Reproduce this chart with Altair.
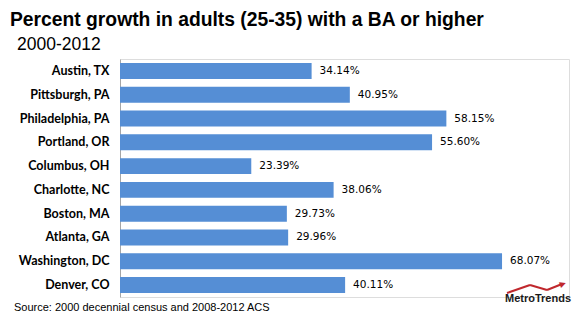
import altair as alt
import pandas as pd

cities = ["Austin, TX", "Pittsburgh, PA", "Philadelphia, PA", "Portland, OR", "Columbus, OH",
          "Charlotte, NC", "Boston, MA", "Atlanta, GA", "Washington, DC", "Denver, CO"]
growth = [34.14, 40.95, 58.15, 55.60, 23.39, 38.06, 29.73, 29.96, 68.07, 40.11]

title_text = "Percent growth in adults (25-35) with a BA or higher"
subtitle_text = "2000-2012"
source_text = "Source: 2000 decennial census and 2008-2012 ACS"
logo_text = "MetroTrends"

df = pd.DataFrame({"city": cities, "growth": growth})

W, H = 449, 238

y_enc = alt.Y("city:N", sort=cities, title=None,
              scale=alt.Scale(paddingInner=0.33, paddingOuter=0.17),
              axis=alt.Axis(ticks=False, domainColor="#A6A6A6", domainWidth=1,
                            labelFont="Lato", labelFontWeight="bold", labelFontSize=12.5,
                            labelColor="#000000", labelPadding=11))
x_enc = alt.X("growth:Q", title=None, scale=alt.Scale(domain=[0, 80]), axis=None)

bars = alt.Chart(df).mark_bar(color="#558ED5").encode(y=y_enc, x=x_enc)

labels = alt.Chart(df).transform_calculate(
    lab="format(datum.growth, '.2f') + '%'"
).mark_text(align="left", baseline="middle", dx=8, font="DejaVu Sans",
            fontSize=10.5, color="#000000").encode(y=y_enc, x=x_enc, text="lab:N")


def note(text, x, y, **kw):
    return alt.Chart(pd.DataFrame({"t": [text]})).mark_text(align="left", **kw).encode(
        x=alt.value(x), y=alt.value(y), text="t:N")


ttl = note(title_text, -110, -33, baseline="alphabetic", font="Liberation Sans",
           fontSize=19.3, fontWeight="bold", color="#000000")
sub = note(subtitle_text, -103, -9, baseline="alphabetic", font="Liberation Sans",
           fontSize=17.5, color="#000000")
src = note(source_text, -106, 249, baseline="middle", font="Liberation Sans",
           fontSize=11, color="#000000")
logo = note(logo_text, 385, 240, baseline="middle", font="Liberation Sans",
            fontWeight="bold", fontSize=11, color="#1a1a1a")

arrow_df = pd.DataFrame({"x": [387, 410, 427], "y": [234, 226, 231],
                         "x2": [410, 427, 442], "y2": [226, 231, 225]})
arrow = alt.Chart(arrow_df).mark_rule(color="#C0282D", strokeWidth=2).encode(
    x=alt.X("x:Q", scale=None), x2="x2:Q", y=alt.Y("y:Q", scale=None), y2="y2:Q")
head = alt.Chart(pd.DataFrame({"t": ["▶"]})).mark_text(
    color="#C0282D", fontSize=8, angle=340, font="DejaVu Sans"
).encode(x=alt.value(443), y=alt.value(225), text="t:N")

chart = alt.layer(bars, labels, ttl, sub, src, arrow, head, logo).properties(
    width=W, height=H,
    padding={"left": 120, "top": 59, "right": 8, "bottom": 25},
    autosize=alt.AutoSizeParams(type="none"),
).configure_view(stroke=None).configure(background="white")

chart.save("out.html", embed_options={"renderer": "svg", "actions": False})
